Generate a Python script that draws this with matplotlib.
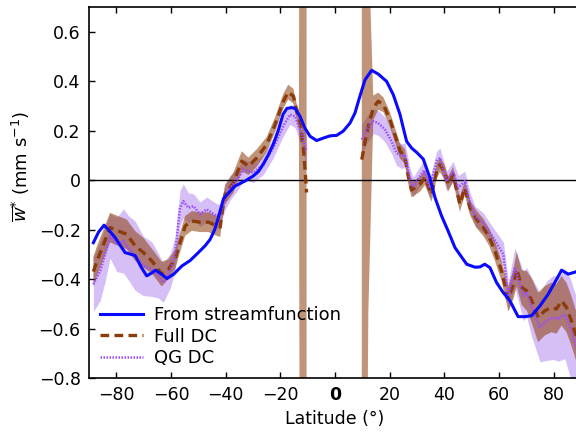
import numpy as np
import matplotlib
matplotlib.use("Agg")
import matplotlib.pyplot as plt

# --- residual vertical velocity from the streamfunction ---
sf_lat = [-88.4, -86.5, -84.5, -82.5, -80.4, -78.5, -76.8, -73.1, -71.0, -68.9,
          -67.0, -65.6, -63.5, -61.5, -59.0, -56.0, -53.0, -50.0, -47.5, -45.7,
          -44.0, -42.7, -40.8, -39.6, -36.6, -33.0, -30.0, -28.0, -26.3, -24.5,
          -22.6, -20.8, -19.0, -17.6, -16.0, -14.6, -12.8, -11.0, -9.1, -6.7,
          -4.3, -1.8, 0.6, 3.0, 5.5, 7.3, 9.1, 11.0, 13.4, 15.8,
          18.9, 21.3, 23.8, 25.0, 26.2, 28.0, 29.9, 32.3, 34.7, 36.6,
          39.0, 41.4, 43.9, 46.9, 48.2, 51.2, 53.0, 54.8, 56.7, 59.1,
          61.5, 64.0, 67.0, 69.5, 71.9, 75.0, 78.0, 80.4, 82.9, 85.3,
          87.8, 89.5]
sf_val = [-0.253, -0.21, -0.182, -0.205, -0.233, -0.265, -0.293, -0.305, -0.35, -0.387,
          -0.375, -0.364, -0.38, -0.398, -0.38, -0.347, -0.325, -0.293, -0.265, -0.24,
          -0.2, -0.152, -0.075, -0.06, -0.024, -0.004, 0.016, 0.035, 0.064, 0.1,
          0.145, 0.2, 0.266, 0.29, 0.293, 0.29, 0.258, 0.21, 0.177, 0.16,
          0.17, 0.179, 0.181, 0.198, 0.231, 0.271, 0.339, 0.406, 0.444, 0.429,
          0.399, 0.346, 0.265, 0.21, 0.157, 0.13, 0.112, 0.085, 0.01, -0.071,
          -0.145, -0.206, -0.273, -0.32, -0.34, -0.352, -0.351, -0.34, -0.354, -0.414,
          -0.454, -0.488, -0.552, -0.552, -0.548, -0.508, -0.461, -0.414, -0.364, -0.38,
          -0.372, -0.365]

# --- full downward control, southern branch ---
full_lat_s = [-88.4, -87.1, -84.7, -82.3, -79.2, -76.2, -73.1, -70.1, -67.0, -63.4,
              -60.9, -58.5, -56.7, -54.8, -52.4, -49.4, -46.3, -43.3, -42.0, -41.2,
              -40.2, -37.2, -34.1, -31.7, -28.6, -25.0, -21.9, -18.9, -17.1, -15.2,
              -14.0, -13.2, -12.6, -11.6, -11.0, -10.4]
full_val_s = [-0.37, -0.327, -0.26, -0.192, -0.206, -0.219, -0.266, -0.293, -0.327, -0.38,
              -0.36, -0.32, -0.253, -0.185, -0.165, -0.17, -0.17, -0.185, -0.19, -0.12,
              -0.058, -0.011, 0.077, 0.056, 0.09, 0.144, 0.225, 0.319, 0.356, 0.339,
              0.278, 0.245, 0.22, 0.13, 0.05, -0.05]
full_err_s = [0.06, 0.06, 0.06, 0.06, 0.06, 0.06, 0.06, 0.06, 0.05, 0.05,
              0.04, 0.04, 0.04, 0.04, 0.04, 0.04, 0.04, 0.04, 0.04, 0.04,
              0.04, 0.04, 0.04, 0.035, 0.035, 0.03, 0.03, 0.03, 0.03, 0.03,
              0.03, 0.04, 3.0, 4.0, 4.0, 4.0]

# --- full downward control, northern branch ---
full_lat_n = [9.8, 11.0, 12.2, 14.0, 15.8, 17.7, 20.1, 21.9, 23.8, 25.6,
              26.8, 28.0, 31.1, 32.9, 35.3, 37.2, 38.4, 40.2, 41.4, 43.2,
              45.7, 47.5, 49.4, 51.8, 54.2, 56.4, 58.5, 61.0, 63.4, 65.3,
              66.5, 68.3, 70.2, 72.0, 74.3, 76.8, 79.2, 81.0, 82.9, 84.7,
              86.5, 88.5]
full_val_n = [0.083, 0.157, 0.218, 0.292, 0.319, 0.305, 0.245, 0.184, 0.117, 0.095,
              0.015, -0.04, -0.017, 0.01, -0.058, 0.036, 0.063, 0.03, -0.017, 0.023,
              -0.098, -0.031, -0.112, -0.159, -0.19, -0.23, -0.286, -0.37, -0.481, -0.42,
              -0.36, -0.434, -0.448, -0.488, -0.555, -0.528, -0.515, -0.521, -0.488, -0.515,
              -0.569, -0.64]
full_err_n = [6.0, 2.5, 0.75, 0.05, 0.035, 0.03, 0.03, 0.03, 0.03, 0.03,
              0.03, 0.03, 0.03, 0.03, 0.03, 0.03, 0.03, 0.03, 0.03, 0.03,
              0.03, 0.03, 0.03, 0.035, 0.035, 0.035, 0.04, 0.04, 0.05, 0.06,
              0.07, 0.07, 0.08, 0.09, 0.1, 0.1, 0.1, 0.1, 0.1, 0.1,
              0.1, 0.1]

# --- quasi-geostrophic downward control, southern branch ---
qg_lat_s = [-88.4, -85.9, -84.1, -82.3, -79.8, -77.4, -75.6, -73.1, -70.1, -67.0,
            -64.6, -62.8, -60.3, -58.5, -56.7, -55.5, -53.6, -51.8, -49.4, -46.9,
            -45.1, -43.3, -42.0, -40.2, -38.4, -35.3, -33.5, -29.9, -26.2, -22.6,
            -18.9, -16.5, -14.6, -12.2, -10.4]
qg_val_s = [-0.421, -0.367, -0.3, -0.226, -0.26, -0.246, -0.273, -0.306, -0.347, -0.36,
            -0.387, -0.414, -0.367, -0.3, -0.112, -0.085, -0.112, -0.105, -0.138, -0.118,
            -0.132, -0.145, -0.138, -0.07, -0.031, 0.009, 0.043, 0.03, 0.063, 0.13,
            0.218, 0.265, 0.258, 0.184, 0.117]
qg_err_s = [0.11, 0.12, 0.11, 0.09, 0.11, 0.13, 0.13, 0.14, 0.12, 0.11,
            0.09, 0.08, 0.07, 0.07, 0.07, 0.07, 0.06, 0.05, 0.05, 0.05,
            0.05, 0.05, 0.04, 0.05, 0.05, 0.045, 0.04, 0.04, 0.04, 0.04,
            0.04, 0.04, 0.045, 0.05, 0.06]

# --- quasi-geostrophic downward control, northern branch ---
qg_lat_n = [9.8, 11.6, 14.0, 15.8, 18.3, 20.7, 22.5, 24.4, 25.6, 27.4,
            28.6, 31.1, 32.6, 34.7, 37.2, 38.4, 40.8, 43.2, 45.1, 47.5,
            49.4, 51.2, 54.2, 57.9, 61.6, 63.4, 65.8, 68.9, 70.1, 72.0,
            75.0, 77.4, 79.8, 81.7, 84.1, 86.0, 88.5]
qg_val_n = [0.164, 0.204, 0.238, 0.231, 0.204, 0.157, 0.11, 0.097, 0.101, 0.009,
            -0.028, 0.016, 0.04, -0.031, 0.077, 0.09, -0.004, 0.036, -0.031, -0.004,
            -0.091, -0.145, -0.172, -0.233, -0.3, -0.47, -0.354, -0.468, -0.454, -0.515,
            -0.595, -0.569, -0.555, -0.562, -0.542, -0.595, -0.68]
qg_err_n = [0.06, 0.055, 0.05, 0.05, 0.05, 0.05, 0.05, 0.05, 0.05, 0.04,
            0.04, 0.04, 0.04, 0.04, 0.04, 0.04, 0.04, 0.04, 0.05, 0.04,
            0.04, 0.04, 0.04, 0.04, 0.05, 0.06, 0.08, 0.1, 0.1, 0.12,
            0.14, 0.16, 0.17, 0.17, 0.18, 0.2, 0.2]

x_ticks = [-80, -60, -40, -20, 0, 20, 40, 60, 80]
y_ticks = [-0.8, -0.6, -0.4, -0.2, 0.0, 0.2, 0.4, 0.6]

c_sf = "#0a0aff"
c_full = "#8c3c0a"
c_qg = "#9b4dff"
c_qg_band = "#b48cf0"

plt.rcParams["font.family"] = ["DejaVu Sans"]
plt.rcParams["mathtext.fontset"] = "dejavusans"
plt.rcParams["axes.unicode_minus"] = True

fig = plt.figure(figsize=(5.76, 4.36), dpi=100)
ax = fig.add_axes([89 / 576, 58 / 436, 492 / 576, 371 / 436])

# uncertainty bands
for lat, val, err in [(qg_lat_s, qg_val_s, qg_err_s), (qg_lat_n, qg_val_n, qg_err_n)]:
    v = np.asarray(val); e = np.asarray(err)
    ax.fill_between(lat, v - e, v + e, color=c_qg_band, alpha=0.55, lw=0, zorder=1)
for lat, val, err in [(full_lat_s, full_val_s, full_err_s), (full_lat_n, full_val_n, full_err_n)]:
    v = np.asarray(val); e = np.asarray(err)
    ax.fill_between(lat, v - e, v + e, color=c_full, alpha=0.55, lw=0, zorder=2)

ax.axhline(0, color="black", lw=1.0, zorder=3)

# curves
ax.plot(full_lat_s, full_val_s, color=c_full, lw=2.4, dashes=(2.6, 1.6), zorder=4,
        label="Full DC")
ax.plot(full_lat_n, full_val_n, color=c_full, lw=2.4, dashes=(2.6, 1.6), zorder=4)
ax.plot(qg_lat_s, qg_val_s, color=c_qg, lw=1.8, dashes=(0.6, 0.6), zorder=5,
        label="QG DC")
ax.plot(qg_lat_n, qg_val_n, color=c_qg, lw=1.8, dashes=(0.6, 0.6), zorder=5)
ax.plot(sf_lat, sf_val, color=c_sf, lw=2.2, zorder=6, label="From streamfunction")

ax.set_xlim(-90, 90)
ax.set_ylim(-0.8, 0.7)
ax.set_xticks(x_ticks)
ax.set_yticks(y_ticks)
ax.set_xticklabels([f"{t:d}".replace("-", "\u2212") for t in x_ticks])
ax.set_yticklabels(["0" if t == 0 else f"{t:.1f}".replace("-", "\u2212") for t in y_ticks])
for lbl in ax.get_xticklabels():
    if lbl.get_text() == "0":
        lbl.set_fontweight("bold")

ax.tick_params(direction="in", length=4, width=1, labelsize=12.5,
               top=True, right=False, pad=6)
for s in ax.spines.values():
    s.set_linewidth(1.2)

ax.set_xlabel("Latitude (\u00b0)", fontsize=12.5, labelpad=4)
ax.set_ylabel(r"$\overline{w}^{*}$ (mm s$^{-1}$)", fontsize=13)
ax.yaxis.set_label_coords(-0.115, 0.57)

h, l = ax.get_legend_handles_labels()
order = [l.index("From streamfunction"), l.index("Full DC"), l.index("QG DC")]
ax.legend([h[i] for i in order], [l[i] for i in order], loc="lower left",
          frameon=False, fontsize=13, handlelength=2.4, labelspacing=0.2,
          handletextpad=0.6, borderaxespad=0.2, bbox_to_anchor=(0.0, 0.0))

fig.savefig("out.png", dpi=100)
